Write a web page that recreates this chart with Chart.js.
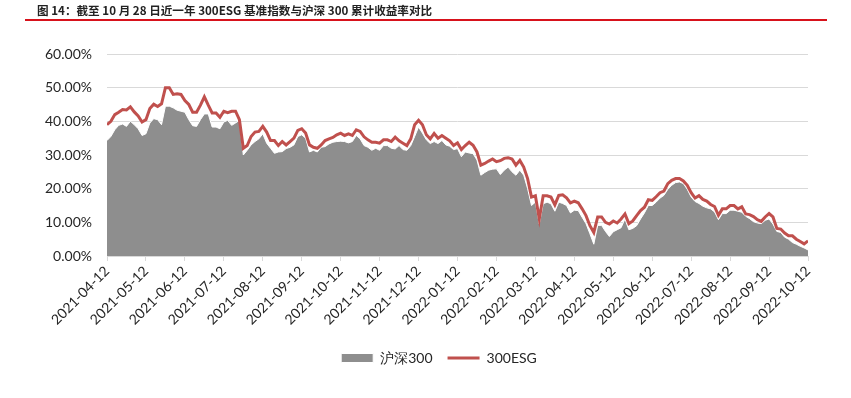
<!DOCTYPE html>
<html>
<head>
<meta charset="utf-8">
<script src="https://cdn.jsdelivr.net/npm/chart.js@4/dist/chart.umd.min.js"></script>
<style>
    body { margin: 0; background: #fff; }
    #wrap { position: relative; width: 851px; height: 398px; }
    #title {
        position: absolute; left: 37px; top: 2px;
        font: bold 11.6px "Noto Sans CJK SC", sans-serif; color: #222;
        white-space: nowrap;
    }
    #rule { position: absolute; left: 25px; top: 19px; width: 802px; height: 2px; background: #d7121b; }
    canvas { position: absolute; left: 0; top: 0; }
</style>
</head>
<body>
<div id="wrap">
    <canvas id="chart" width="851" height="398"></canvas>
    <div id="title">图 14：截至 10 月 28 日近一年 300ESG 基准指数与沪深 300 累计收益率对比</div>
    <div id="rule"></div>
</div>
<script>
"use strict";

// month tick labels on the x axis
const monthLabels = [
    "2021-04-12", "2021-05-12", "2021-06-12", "2021-07-12", "2021-08-12", "2021-09-12",
    "2021-10-12", "2021-11-12", "2021-12-12", "2022-01-12", "2022-02-12", "2022-03-12",
    "2022-04-12", "2022-05-12", "2022-06-12", "2022-07-12", "2022-08-12", "2022-09-12",
    "2022-10-12"
];
const pointsPerMonth = 10;

// cumulative return (%)
const hs300 = [
    34.3, 35.5, 37.5, 38.8, 39.2, 38.5, 40.0, 39.0, 37.8, 35.8,
    36.3, 39.5, 40.8, 40.5, 39.0, 44.5, 44.5, 44.0, 43.3, 43.0,
    42.7, 40.5, 38.7, 38.5, 40.5, 42.2, 42.2, 38.3, 38.3, 37.8,
    39.8, 40.3, 38.8, 39.5, 40.3, 30.0, 31.4, 33.0, 34.0, 34.8,
    36.3, 33.5, 32.0, 30.5, 30.9, 31.0, 31.9, 32.3, 33.0, 35.5,
    36.0, 35.0, 30.9, 31.4, 30.9, 32.3, 32.5, 33.3, 33.8, 34.0,
    34.1, 34.0, 33.6, 34.0, 35.8, 34.8, 32.8, 32.3, 31.4, 32.0,
    31.4, 32.8, 32.8, 32.0, 31.8, 32.8, 31.6, 31.4, 32.8, 35.5,
    38.3, 36.5, 34.5, 33.4, 34.0, 33.4, 34.3, 33.0, 32.6, 31.6,
    31.9, 29.5, 30.9, 30.6, 30.4, 28.5, 24.0, 24.8, 25.5, 25.8,
    25.9, 24.2, 25.5, 26.4, 25.0, 24.0, 25.5, 24.0, 20.0, 15.0,
    16.0, 9.5, 15.5, 16.0, 15.5, 13.3, 16.0, 15.6, 15.0, 12.8,
    13.6, 13.5, 11.5, 9.6, 6.6, 3.5, 9.1, 9.1, 7.3, 5.8,
    7.2, 7.8, 8.4, 11.0, 7.8, 8.2, 9.0, 11.0, 12.8, 15.0,
    15.0, 16.0, 17.2, 18.0, 19.8, 21.0, 21.8, 22.0, 21.5, 19.8,
    17.5, 16.2, 15.6, 14.8, 14.3, 14.0, 13.1, 10.8, 12.6, 12.6,
    13.6, 13.6, 13.3, 13.0, 11.8, 11.1, 10.2, 9.8, 9.6, 10.6,
    11.0, 9.5, 7.3, 7.0, 5.6, 5.0, 4.0, 3.5, 2.9, 2.4,
    1.8
];

const esg300 = [
    39.0, 40.0, 42.0, 42.7, 43.5, 43.4, 44.3, 42.8, 41.6, 39.8,
    40.5, 43.8, 45.1, 44.4, 45.2, 50.0, 50.0, 48.0, 48.2, 48.0,
    46.2, 45.0, 42.7, 42.7, 44.8, 47.3, 44.8, 42.5, 42.5, 41.2,
    43.0, 42.6, 43.0, 43.0, 40.5, 32.0, 32.8, 35.5, 36.8, 37.0,
    38.5, 36.8, 34.3, 34.3, 32.8, 34.0, 33.0, 34.0, 35.0, 37.3,
    37.8, 36.5, 33.0, 32.3, 32.0, 33.0, 34.3, 34.8, 35.2, 36.0,
    36.5, 35.8, 36.3, 35.8, 37.5, 37.0, 35.4, 34.5, 33.8, 33.8,
    33.5, 34.5, 34.5, 34.0, 35.3, 34.2, 33.5, 32.8, 34.8, 39.0,
    40.3, 39.0, 36.0, 34.8, 36.4, 35.0, 35.8, 35.0, 34.2, 32.8,
    33.6, 31.6, 32.8, 33.8, 32.9, 30.9, 27.0, 27.5, 28.2, 28.8,
    28.0, 28.3, 29.0, 29.2, 28.8, 27.0, 28.4, 26.4, 23.0, 17.5,
    17.9, 11.0, 17.9, 17.9, 17.5, 15.2, 18.0, 18.2, 17.3, 15.8,
    16.3, 15.8, 14.0, 12.0, 9.0, 7.0, 11.6, 11.6, 10.0, 9.5,
    10.4, 9.8, 11.0, 12.5, 9.6, 10.4, 12.0, 13.5, 14.5, 16.7,
    16.5, 17.6, 18.8, 19.3, 21.5, 22.5, 23.0, 23.0, 22.3, 21.0,
    18.8, 17.2, 17.9, 16.8, 16.3, 15.3, 14.7, 12.1, 14.0, 14.0,
    15.0, 15.0, 14.0, 14.6, 12.5, 12.3, 11.7, 10.8, 10.3, 11.6,
    12.6, 11.6, 8.2, 8.0, 6.8, 6.0, 6.0, 5.0, 4.3, 3.6,
    4.5
];

const yTicks = [0, 10, 20, 30, 40, 50, 60];

const axisFont = { family: "Lato", size: 14 };
const gridColor = "#d9d9d9";
const textColor = "#262626";

const toPoints = arr => arr.map((v, i) => ({ x: i, y: v }));

// nudge the legend so it sits centred the way the original does
const legendShift = {
    id: "legendShift",
    afterLayout(chart) {
        if (chart.legend) chart.legend.left += 70;
    }
};

const ctx = document.getElementById("chart").getContext("2d");

const chart = new Chart(ctx, {
    type: "line",
    data: {
        datasets: [{
            label: "沪深300",
            data: toPoints(hs300),
            borderColor: "#ffffff",
            borderWidth: 1,
            backgroundColor: "#8e8e8e",
            fill: "origin",
            pointRadius: 0,
            pointStyle: "rect",
            tension: 0,
            order: 2
        }, {
            label: "300ESG",
            data: toPoints(esg300),
            borderColor: "#c0504d",
            backgroundColor: "#c0504d",
            borderWidth: 3,
            fill: false,
            pointRadius: 0,
            pointStyle: "line",
            tension: 0,
            order: 1
        }]
    },
    plugins: [legendShift],
    options: {
        responsive: false,
        animation: false,
        layout: { padding: { left: 0, top: 54, right: 43, bottom: 23 } },
        plugins: {
            tooltip: { enabled: false },
            legend: {
                position: "bottom",
                labels: {
                    usePointStyle: true,
                    pointStyleWidth: 32,
                    boxHeight: 9,
                    padding: 15,
                    color: textColor,
                    font: axisFont,
                    sort: (a, b) => a.datasetIndex - b.datasetIndex
                }
            }
        },
        scales: {
            x: {
                type: "linear",
                min: 0,
                max: (monthLabels.length - 1) * pointsPerMonth,
                afterBuildTicks: scale => {
                    scale.ticks = monthLabels.map((_, k) => ({ value: k * pointsPerMonth }));
                },
                afterFit: scale => { scale.height = 80; },
                ticks: {
                    autoSkip: false,
                    minRotation: 45,
                    maxRotation: 45,
                    padding: 2,
                    color: textColor,
                    font: axisFont,
                    callback: (value, index) => monthLabels[index]
                },
                grid: {
                    drawOnChartArea: false,
                    drawTicks: true,
                    tickLength: 5,
                    color: gridColor
                },
                border: { color: gridColor }
            },
            y: {
                min: 0,
                max: 60,
                afterBuildTicks: scale => {
                    scale.ticks = yTicks.map(v => ({ value: v }));
                },
                afterFit: scale => { scale.width = 107; },
                ticks: {
                    padding: 15,
                    color: textColor,
                    font: axisFont,
                    callback: v => v.toFixed(2) + "%"
                },
                grid: { color: gridColor, drawTicks: false },
                border: { display: false }
            }
        }
    }
});
</script>
</body>
</html>
